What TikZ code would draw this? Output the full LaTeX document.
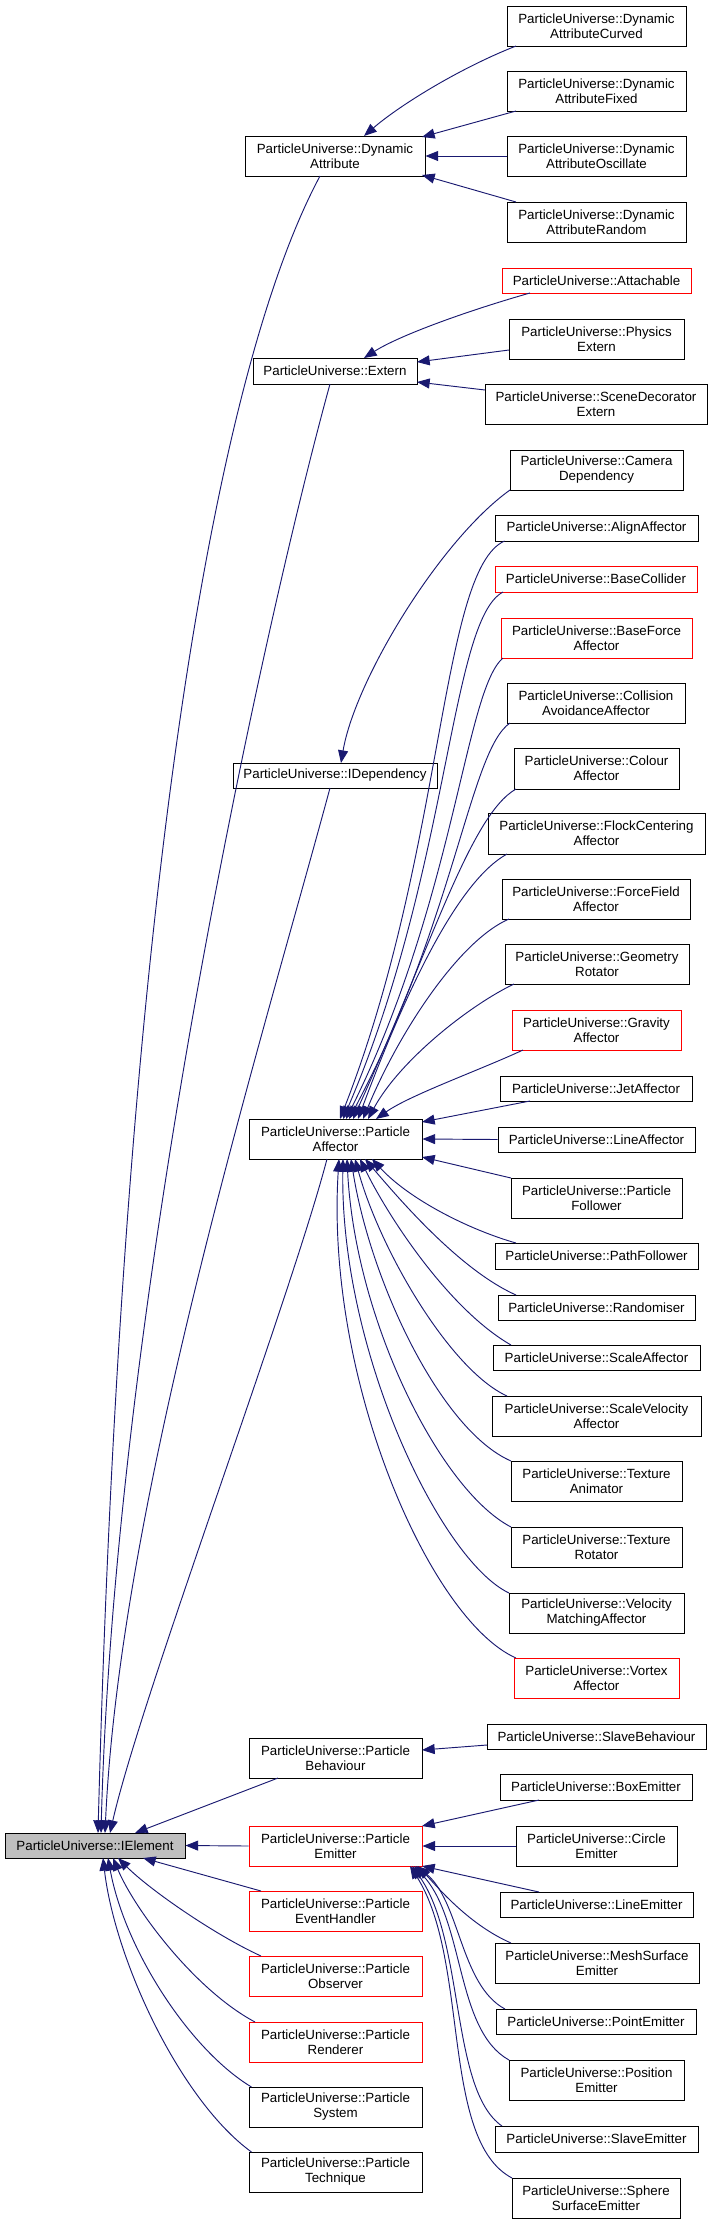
\documentclass[tikz,border=0pt]{standalone}
\usepackage{fontspec}
\setmainfont{Liberation Sans}
\usetikzlibrary{arrows.meta,calc}
\definecolor{edgecol}{HTML}{191970}
\definecolor{gfill}{HTML}{BFBFBF}
\tikzset{
  nd/.style={draw=black, line width=0.75pt, fill=white, inner sep=0pt, align=center,
    font=\fontsize{10pt}{11.25pt}\selectfont},
  rd/.style={nd, draw=red},
  bw/.style={minimum width=#1*0.75pt},
  bh/.style={minimum height=#1*0.75pt},
  conn/.style={draw=edgecol, line width=0.7pt, -{Triangle[length=9.5pt,width=7.5pt]}}
}
\begin{document}
\begin{tikzpicture}[x=0.75pt,y=-0.75pt]
\useasboundingbox (0,0) rectangle (708,2224);
% right column
\node[nd,bw=179,bh=40] (dac) at (596.5,26) {ParticleUniverse::Dynamic\\AttributeCurved};
\node[nd,bw=179,bh=40] (daf) at (596.5,91) {ParticleUniverse::Dynamic\\AttributeFixed};
\node[nd,bw=179,bh=40] (dao) at (596.5,156) {ParticleUniverse::Dynamic\\AttributeOscillate};
\node[nd,bw=179,bh=40] (dar) at (596.5,222) {ParticleUniverse::Dynamic\\AttributeRandom};
\node[rd,bw=189,bh=25] (att) at (596.5,280.5) {ParticleUniverse::Attachable};
\node[nd,bw=175,bh=40] (phx) at (596.5,339) {ParticleUniverse::Physics\\Extern};
\node[nd,bw=222,bh=40] (sde) at (596,404) {ParticleUniverse::SceneDecorator\\Extern};
\node[nd,bw=173,bh=40] (cam) at (596.5,470) {ParticleUniverse::Camera\\Dependency};
\node[nd,bw=203,bh=26] (ali) at (596.5,528) {ParticleUniverse::AlignAffector};
\node[rd,bw=202,bh=26] (bco) at (596,579) {ParticleUniverse::BaseCollider};
\node[rd,bw=191,bh=40] (bfa) at (596.5,638) {ParticleUniverse::BaseForce\\Affector};
\node[nd,bw=178,bh=40] (caa) at (596,703) {ParticleUniverse::Collision\\AvoidanceAffector};
\node[nd,bw=165,bh=41] (col) at (596.5,768.5) {ParticleUniverse::Colour\\Affector};
\node[nd,bw=217,bh=41] (fca) at (596.5,833.5) {ParticleUniverse::FlockCentering\\Affector};
\node[nd,bw=188,bh=40] (ffa) at (596,899) {ParticleUniverse::ForceField\\Affector};
\node[nd,bw=184,bh=40] (geo) at (597,964) {ParticleUniverse::Geometry\\Rotator};
\node[rd,bw=169,bh=40] (gra) at (596.5,1030) {ParticleUniverse::Gravity\\Affector};
\node[nd,bw=192,bh=25] (jet) at (596,1088.5) {ParticleUniverse::JetAffector};
\node[nd,bw=197,bh=25] (lin) at (596.5,1139.5) {ParticleUniverse::LineAffector};
\node[nd,bw=171,bh=40] (pfo) at (596.5,1198) {ParticleUniverse::Particle\\Follower};
\node[nd,bw=203,bh=26] (pat) at (596.5,1256) {ParticleUniverse::PathFollower};
\node[nd,bw=197,bh=25] (ran) at (596.5,1307.5) {ParticleUniverse::Randomiser};
\node[nd,bw=207,bh=25] (sca) at (596.5,1357.5) {ParticleUniverse::ScaleAffector};
\node[nd,bw=209,bh=40] (scv) at (596.5,1416) {ParticleUniverse::ScaleVelocity\\Affector};
\node[nd,bw=171,bh=40] (tan) at (596.5,1481) {ParticleUniverse::Texture\\Animator};
\node[nd,bw=171,bh=40] (tro) at (596.5,1547) {ParticleUniverse::Texture\\Rotator};
\node[nd,bw=175,bh=40] (vma) at (596.5,1613) {ParticleUniverse::Velocity\\MatchingAffector};
\node[rd,bw=165,bh=40] (vor) at (596.5,1678) {ParticleUniverse::Vortex\\Affector};
\node[nd,bw=219,bh=25] (slb) at (596.5,1736.5) {ParticleUniverse::SlaveBehaviour};
\node[nd,bw=192,bh=26] (bxe) at (596,1787) {ParticleUniverse::BoxEmitter};
\node[nd,bw=161,bh=40] (cir) at (596.5,1846) {ParticleUniverse::Circle\\Emitter};
\node[nd,bw=193,bh=25] (lem) at (596.5,1904.5) {ParticleUniverse::LineEmitter};
\node[nd,bw=204,bh=40] (msh) at (597,1963) {ParticleUniverse::MeshSurface\\Emitter};
\node[nd,bw=200,bh=25] (pte) at (596,2021.5) {ParticleUniverse::PointEmitter};
\node[nd,bw=175,bh=40] (pos) at (596.5,2080) {ParticleUniverse::Position\\Emitter};
\node[nd,bw=203,bh=26] (sle) at (596.5,2139) {ParticleUniverse::SlaveEmitter};
\node[nd,bw=168,bh=40] (sph) at (596,2198) {ParticleUniverse::Sphere\\SurfaceEmitter};
% middle column
\node[nd,bw=180,bh=40] (da) at (335,156) {ParticleUniverse::Dynamic\\Attribute};
\node[nd,bw=164,bh=26] (ext) at (335,371) {ParticleUniverse::Extern};
\node[nd,bw=204,bh=25] (idp) at (335,775.5) {ParticleUniverse::IDependency};
\node[nd,bw=173,bh=40] (paf) at (335.5,1139) {ParticleUniverse::Particle\\Affector};
\node[nd,bw=173,bh=40] (pbh) at (335.5,1758) {ParticleUniverse::Particle\\Behaviour};
\node[rd,bw=173,bh=40] (pem) at (335.5,1846) {ParticleUniverse::Particle\\Emitter};
\node[rd,bw=173,bh=40] (peh) at (335.5,1911) {ParticleUniverse::Particle\\EventHandler};
\node[rd,bw=173,bh=40] (pob) at (335.5,1976) {ParticleUniverse::Particle\\Observer};
\node[rd,bw=173,bh=40] (pre) at (335.5,2042) {ParticleUniverse::Particle\\Renderer};
\node[nd,bw=173,bh=40] (psy) at (335.5,2107) {ParticleUniverse::Particle\\System};
\node[nd,bw=173,bh=40] (ptq) at (335.5,2172) {ParticleUniverse::Particle\\Technique};
% root
\node[nd,fill=gfill,bw=180,bh=25] (iel) at (95,1845.5) {ParticleUniverse::IElement};

% DynamicAttribute children
\draw[conn] ($(dac)+(-80.5,20)$) .. controls (460,68) and (400,105) .. ($(da)+(29,-20)$);
\draw[conn] ($(daf)+(-80.5,20)$) -- ($(da)+(87,-19)$);
\draw[conn] (dao.west) -- (da.east);
\draw[conn] ($(dar)+(-80.5,-20)$) -- ($(da)+(87,19)$);
% Extern children
\draw[conn] ($(att)+(-66.5,12.5)$) .. controls (470,310) and (400,335) .. ($(ext)+(29,-13)$);
\draw[conn] ($(phx)+(-87.5,11)$) -- ($(ext)+(82,-9)$);
\draw[conn] ($(sde)+(-111,-14)$) -- ($(ext)+(82,11)$);
% IDependency child
\draw[conn] ($(cam)+(-86.5,20)$) .. controls (440,540) and (355,680) .. ($(idp)+(6,-12.5)$);
% IElement children
\draw[conn] ($(da)+(-15,20)$) .. controls (200,400) and (120,1000) .. ($(iel)+(3,-12.5)$);
\draw[conn] ($(ext)+(-5,13)$) .. controls (265,620) and (115,1300) .. ($(iel)+(6,-12.5)$);
\draw[conn] ($(idp)+(-5,12.5)$) .. controls (262,1040) and (120,1500) .. ($(iel)+(10,-12.5)$);
\draw[conn] ($(paf)+(-8.5,20)$) .. controls (290,1300) and (140,1700) .. ($(iel)+(15,-12.5)$);
\draw[conn] ($(pbh)+(-57.5,20)$) -- ($(iel)+(40,-12.5)$);
\draw[conn] (pem.west) -- (iel.east);
\draw[conn] ($(peh)+(-74.5,-20)$) -- ($(iel)+(48,12.5)$);
\draw[conn] ($(pob)+(-74.5,-20)$) .. controls (215,1935) and (150,1890) .. ($(iel)+(23,12.5)$);
\draw[conn] ($(pre)+(-80.5,-20)$) .. controls (195,1990) and (135,1910) .. ($(iel)+(18,12.5)$);
\draw[conn] ($(psy)+(-84,-20)$) .. controls (190,2050) and (125,1950) .. ($(iel)+(13,12.5)$);
\draw[conn] ($(ptq)+(-84,-20)$) .. controls (180,2100) and (115,1960) .. ($(iel)+(8,12.5)$);
% ParticleAffector children (above)
\draw[conn] ($(ali)+(-92,13)$) .. controls (440,570) and (445,850) .. ($(paf)+(4.5,-20)$);
\draw[conn] ($(bco)+(-93,13)$) .. controls (450,620) and (450,870) .. ($(paf)+(7.5,-20)$);
\draw[conn] ($(bfa)+(-93.5,20)$) .. controls (465,690) and (455,900) .. ($(paf)+(10.5,-20)$);
\draw[conn] ($(caa)+(-86,20)$) .. controls (470,750) and (455,920) .. ($(paf)+(13.5,-20)$);
\draw[conn] ($(col)+(-80.5,20.5)$) .. controls (470,815) and (430,950) .. ($(paf)+(17.5,-20)$);
\draw[conn] ($(fca)+(-89.5,20.5)$) .. controls (460,880) and (410,980) .. ($(paf)+(22.5,-20)$);
\draw[conn] ($(ffa)+(-87,20)$) .. controls (460,940) and (400,1030) .. ($(paf)+(27.5,-20)$);
\draw[conn] ($(geo)+(-83,20)$) .. controls (470,1005) and (400,1060) .. ($(paf)+(32.5,-20)$);
\draw[conn] ($(gra)+(-73.5,20)$) .. controls (480,1070) and (410,1095) .. ($(paf)+(40.5,-20)$);
\draw[conn] ($(jet)+(-66,12.5)$) -- ($(paf)+(86.5,-17)$);
\draw[conn] (lin.west) -- (paf.east);
% ParticleAffector children (below)
\draw[conn] ($(pfo)+(-85.5,-20)$) -- ($(paf)+(86.5,18)$);
\draw[conn] ($(pat)+(-80.5,-13)$) .. controls (470,1230) and (410,1200) .. ($(paf)+(36.5,20)$);
\draw[conn] ($(ran)+(-80.5,-12.5)$) .. controls (460,1270) and (400,1200) .. ($(paf)+(29.5,20)$);
\draw[conn] ($(sca)+(-85.5,-12.5)$) .. controls (450,1310) and (390,1220) .. ($(paf)+(24.5,20)$);
\draw[conn] ($(scv)+(-89.5,-20)$) .. controls (450,1370) and (380,1250) .. ($(paf)+(19.5,20)$);
\draw[conn] ($(tan)+(-85.5,-20)$) .. controls (440,1430) and (370,1280) .. ($(paf)+(15.5,20)$);
\draw[conn] ($(tro)+(-85.5,-20)$) .. controls (440,1490) and (355,1320) .. ($(paf)+(11.5,20)$);
\draw[conn] ($(vma)+(-87.5,-20)$) .. controls (440,1560) and (340,1350) .. ($(paf)+(7.5,20)$);
\draw[conn] ($(vor)+(-80.5,-20)$) .. controls (430,1620) and (325,1380) .. ($(paf)+(3.5,20)$);
% ParticleBehaviour child
\draw[conn] ($(slb)+(-109.5,8.5)$) -- ($(pbh)+(86.5,-8)$);
% ParticleEmitter children
\draw[conn] ($(bxe)+(-57,13)$) -- ($(pem)+(86.5,-20)$);
\draw[conn] (cir.west) -- (pem.east);
\draw[conn] ($(lem)+(-57.5,-12.5)$) -- ($(pem)+(86.5,20)$);
\draw[conn] ($(msh)+(-86,-20)$) .. controls (470,1925) and (440,1890) .. ($(pem)+(82.5,20)$);
\draw[conn] ($(pte)+(-91,-12.5)$) .. controls (460,1985) and (460,1900) .. ($(pem)+(80.5,20)$);
\draw[conn] ($(pos)+(-87.5,-20)$) .. controls (455,2030) and (465,1920) .. ($(pem)+(78.5,20)$);
\draw[conn] ($(sle)+(-94.5,-13)$) .. controls (450,2090) and (465,1940) .. ($(pem)+(76.5,20)$);
\draw[conn] ($(sph)+(-84,-20)$) .. controls (440,2140) and (470,1960) .. ($(pem)+(74.5,20)$);
\end{tikzpicture}
\end{document}
